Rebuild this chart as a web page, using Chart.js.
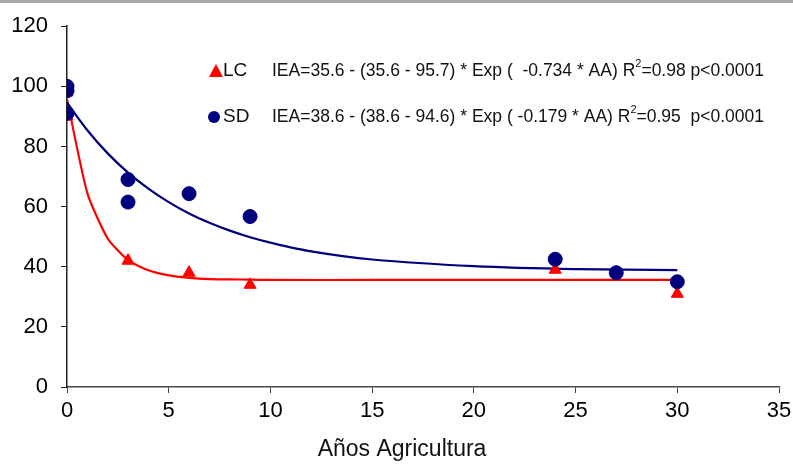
<!DOCTYPE html>
<html>
<head>
<meta charset="utf-8">
<script src="https://cdn.jsdelivr.net/npm/chart.js@4"></script>
<style>
  html, body { margin: 0; padding: 0; background: #fff; }
  #wrap { width: 793px; height: 465px; position: relative; }
</style>
</head>
<body>
<div id="wrap"><canvas id="chart" width="793" height="465"></canvas></div>
<script>
// IEA vs years of agriculture, LC and SD with fitted exponential curves

// observed points
const lcX = [0, 0, 3, 6, 9, 24, 27, 30];
const lcY = [98, 90, 42, 38, 34, 39, 38, 31];
const sdX = [0, 0, 0, 3, 3, 6, 9, 24, 27, 30];
const sdY = [100, 98.5, 91, 69, 61.5, 64.3, 56.7, 42.5, 38, 35];

// fitted curves as drawn
const lcFitX = [0, 1, 2, 3, 4, 5, 6, 7, 8, 9, 10, 15, 20, 25, 30];
const lcFitY = [95.7, 64.5, 49.4, 42.2, 38.8, 37.1, 36.3, 35.9, 35.8, 35.7, 35.6, 35.6, 35.6, 35.6, 35.6];
const sdFitX = [0, 1, 2, 3, 4, 5, 6, 7, 8, 9, 10, 12, 15, 20, 25, 30];
const sdFitY = [94.6, 85.4, 77.7, 71.3, 66.0, 61.5, 57.7, 54.6, 52.0, 49.8, 48.0, 45.1, 42.4, 40.2, 39.2, 38.9];

// legend text
const seriesNames = ['LC', 'SD'];
const eqBefore = ['IEA=35.6 - (35.6 - 95.7) * Exp (  -0.734 * AA) R', 'IEA=38.6 - (38.6 - 94.6) * Exp ( -0.179 * AA) R'];
const eqAfter = ['=0.98 p<0.0001', '=0.95  p<0.0001'];

const xTitle = 'Años Agricultura';

const RED = '#ff0000';
const BLUE = '#00007f';
const FONT = 'Liberation Sans, Arial, sans-serif';

function pts(xs, ys) {
    return xs.map(function (x, i) { return { x: x, y: ys[i] }; });
}

// grey rule at the very top, axis title and the equations legend
const decorPlugin = {
    id: 'decor',
    beforeDraw: function (chart) {
        const ctx = chart.ctx;
        ctx.save();
        ctx.fillStyle = '#fff';
        ctx.fillRect(0, 0, chart.width, chart.height);
        ctx.fillStyle = '#a8a8a8';
        ctx.fillRect(0, 0, chart.width, 3);
        ctx.restore();
    },
    afterDraw: function (chart) {
        const ctx = chart.ctx;
        ctx.save();

        // x axis title sits a bit left of the axis centre in the original
        ctx.fillStyle = '#111';
        ctx.font = '23px ' + FONT;
        ctx.textAlign = 'center';
        ctx.textBaseline = 'middle';
        ctx.fillText(xTitle, 402, 450);

        const rows = [71, 117];
        rows.forEach(function (y, i) {
            // marker
            ctx.fillStyle = i === 0 ? RED : BLUE;
            ctx.beginPath();
            if (i === 0) {
                ctx.moveTo(216, y - 7);
                ctx.lineTo(223, y + 6);
                ctx.lineTo(209, y + 6);
                ctx.closePath();
            } else {
                ctx.arc(214, y, 6, 0, Math.PI * 2);
            }
            ctx.fill();

            ctx.fillStyle = '#111';
            ctx.textBaseline = 'middle';
            ctx.textAlign = 'left';
            ctx.font = '19px ' + FONT;
            ctx.fillText(seriesNames[i], 223, y);

            ctx.font = '17.5px ' + FONT;
            let x = 272;
            ctx.fillText(eqBefore[i], x, y);
            x += ctx.measureText(eqBefore[i]).width;
            ctx.font = '11px ' + FONT;
            ctx.fillText('2', x, y - 7);
            x += ctx.measureText('2').width;
            ctx.font = '17.5px ' + FONT;
            ctx.fillText(eqAfter[i], x, y);
        });
        ctx.restore();
    }
};

const ctx = document.getElementById('chart').getContext('2d');

new Chart(ctx, {
    type: 'scatter',
    data: {
        datasets: [
            {
                label: 'SD',
                data: pts(sdX, sdY),
                backgroundColor: BLUE,
                borderColor: BLUE,
                pointStyle: 'circle',
                pointRadius: 7,
                pointHoverRadius: 7,
                order: 0
            },
            {
                label: 'LC',
                data: pts(lcX, lcY),
                backgroundColor: RED,
                borderColor: RED,
                pointStyle: 'triangle',
                pointRadius: 7,
                pointHoverRadius: 7,
                order: 1
            },
            {
                label: 'SD fit',
                data: pts(sdFitX, sdFitY),
                showLine: true,
                borderColor: BLUE,
                borderWidth: 2.2,
                pointRadius: 0,
                tension: 0.3,
                order: 2
            },
            {
                label: 'LC fit',
                data: pts(lcFitX, lcFitY),
                showLine: true,
                borderColor: RED,
                borderWidth: 2.2,
                pointRadius: 0,
                tension: 0.2,
                order: 3
            }
        ]
    },
    options: {
        responsive: false,
        animation: false,
        layout: { padding: { top: 22, right: 14, bottom: 0, left: 0 } },
        scales: {
            x: {
                type: 'linear',
                min: 0,
                max: 35,
                afterFit: function (scale) {
                    scale.height = 78;
                    scale.paddingRight = 0;
                    scale.paddingLeft = 0;
                },
                ticks: {
                    stepSize: 5,
                    color: '#000',
                    font: { family: FONT, size: 22 },
                    padding: 5
                },
                grid: {
                    drawOnChartArea: false,
                    drawTicks: true,
                    tickLength: 6,
                    color: '#444'
                },
                border: { color: '#444', width: 1.5 }
            },
            y: {
                min: 0,
                max: 120,
                afterFit: function (scale) { scale.width = 67; },
                ticks: {
                    stepSize: 20,
                    color: '#000',
                    font: { family: FONT, size: 22 },
                    padding: 13
                },
                grid: {
                    drawOnChartArea: false,
                    drawTicks: true,
                    tickLength: 6,
                    color: '#222'
                },
                border: { color: '#222', width: 1.5 }
            }
        },
        plugins: {
            legend: { display: false },
            tooltip: { enabled: false }
        }
    },
    plugins: [decorPlugin]
});
</script>
</body>
</html>
